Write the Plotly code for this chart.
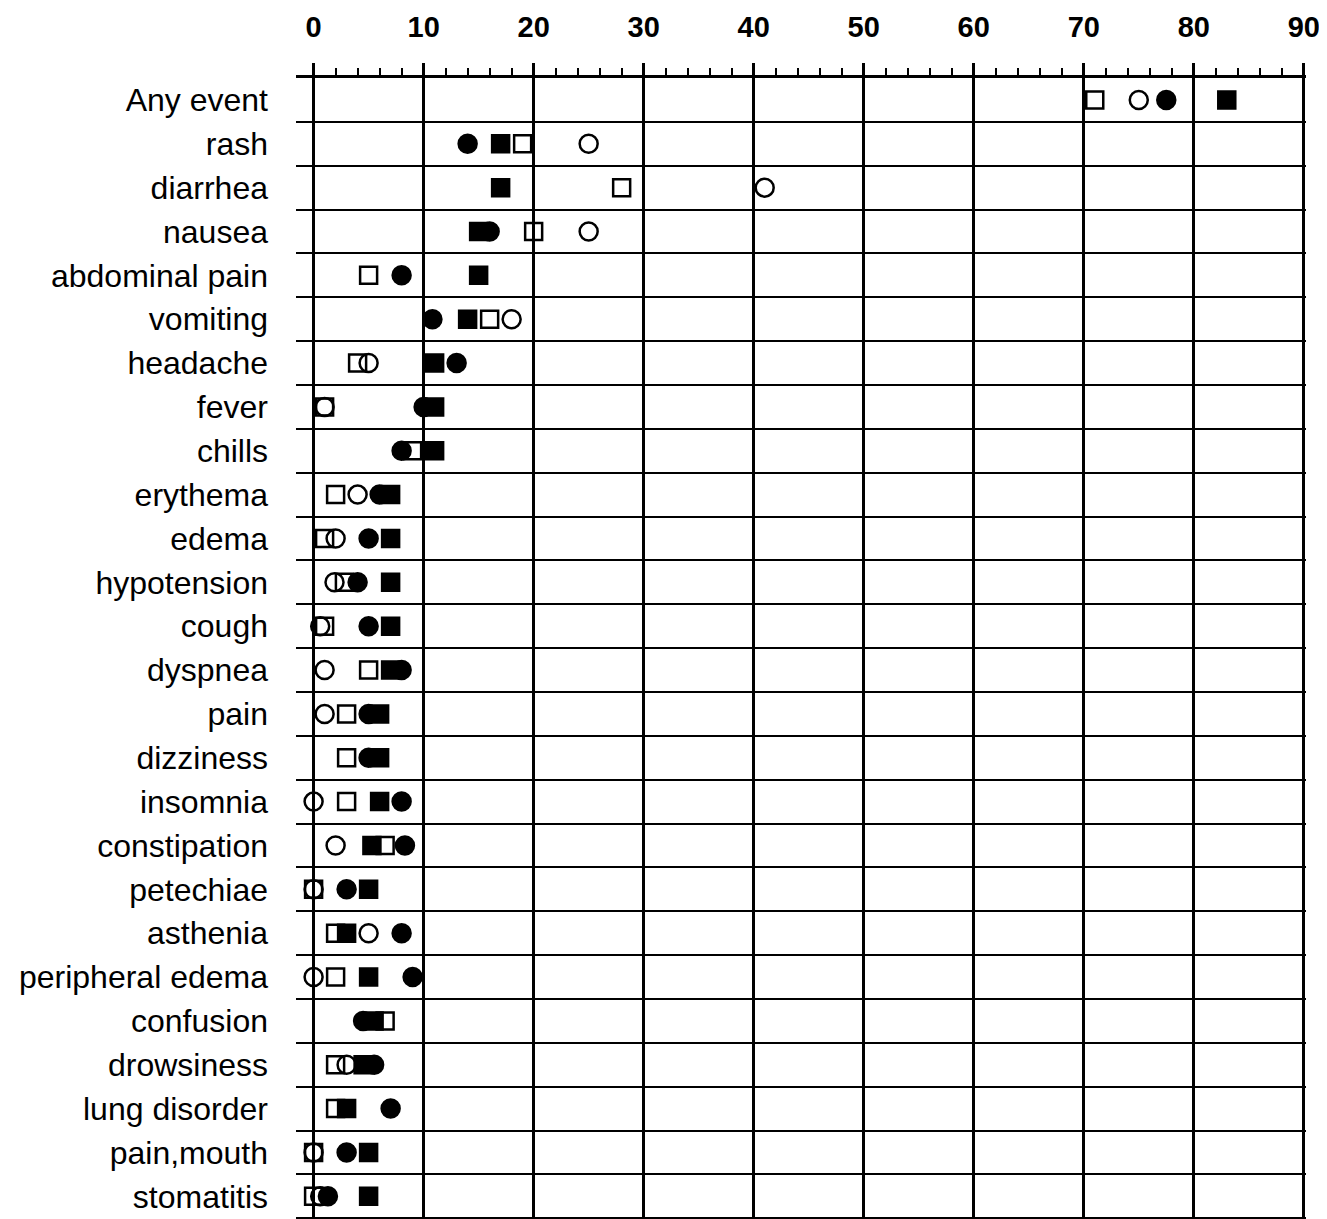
import plotly.graph_objects as go

categories = ["Any event", "rash", "diarrhea", "nausea", "abdominal pain", "vomiting",
              "headache", "fever", "chills", "erythema", "edema", "hypotension", "cough",
              "dyspnea", "pain", "dizziness", "insomnia", "constipation", "petechiae",
              "asthenia", "peripheral edema", "confusion", "drowsiness", "lung disorder",
              "pain,mouth", "stomatitis"]

open_square = [71, 19, 28, 20, 5, 16, 4, 1, 9, 2, 1, 2.8, 1, 5, 3, 3, 3, 6.5, 0, 2, 2, 6.5, 2, 2, 0, 0]
open_circle = [75, 25, 41, 25, None, 18, 5, 1, None, 4, 2, 1.9, 0.6, 1, 1, None, 0, 2, 0, 5, 0, None, 3, None, 0, 0.6]
filled_circle = [77.5, 14, None, 16, 8, 10.8, 13, 10, 8, 6, 5, 4, 5, 8, 5, 5, 8, 8.3, 3, 8, 9, 4.5, 5.5, 7, 3, 1.3]
filled_square = [83, 17, 17, 15, 15, 14, 11, 11, 11, 7, 7, 7, 7, 7, 6, 6, 6, 5.3, 5, 3, 5, 5.5, 4.5, 3, 5, 5]

x_ticks = [0, 10, 20, 30, 40, 50, 60, 70, 80, 90]

idx = list(range(len(categories)))

fig = go.Figure()
series = [
    ("open square", open_square, "square-open", 17),
    ("open circle", open_circle, "circle-open", 18),
    ("filled circle", filled_circle, "circle", 18),
    ("filled square", filled_square, "square", 17),
]
for name, vals, sym, sz in series:
    fig.add_trace(go.Scatter(
        x=vals, y=idx, mode="markers", name=name,
        marker=dict(symbol=sym, size=sz, color="black",
                    line=dict(color="black", width=2.5)),
        showlegend=False, cliponaxis=False))

fig.update_layout(
    width=1327, height=1219,
    margin=dict(l=288, r=29, t=70, b=0),
    paper_bgcolor="white", plot_bgcolor="white",
    font=dict(family="Liberation Sans, Arial, sans-serif", color="black"),
    xaxis=dict(
        side="top", range=[-1.6, 90.2],
        tickvals=x_ticks, ticktext=[str(v) for v in x_ticks],
        tickfont=dict(size=29, family="Liberation Sans, Arial", weight="bold"),
        ticks="outside", ticklen=12, tickwidth=3, tickcolor="black",
        ticklabelstandoff=14,
        showgrid=True, gridcolor="black", gridwidth=3,
        showline=True, linecolor="black", linewidth=3,
        zeroline=False,
        minor=dict(tickmode="linear", tick0=0, dtick=2, ticks="outside",
                   ticklen=7, tickwidth=2, tickcolor="black", showgrid=False),
    ),
    yaxis=dict(
        range=[25.7, -0.5],
        tickvals=idx, ticktext=categories,
        tickfont=dict(size=32),
        ticks="", ticklabelstandoff=27,
        showgrid=False, zeroline=False, showline=False,
        minor=dict(tickmode="linear", tick0=0.5, dtick=1, showgrid=True,
                   gridcolor="black", gridwidth=2, ticks=""),
    ),
)

fig.write_html("out.html")
